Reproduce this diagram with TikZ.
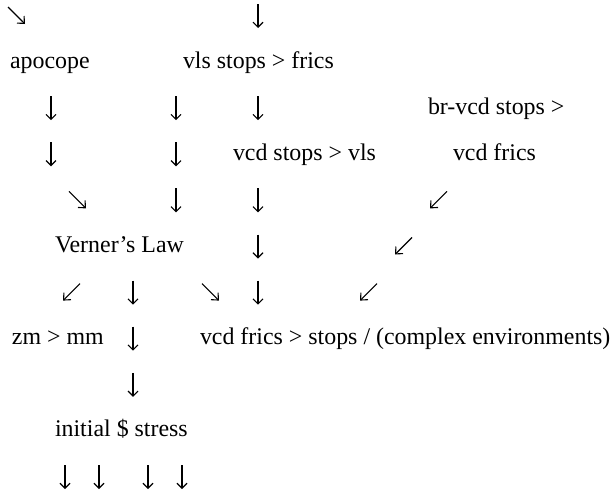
\documentclass[tikz,border=0pt]{standalone}
\usepackage{fontspec}
\setmainfont{Liberation Serif}
\usetikzlibrary{arrows.meta}
\tikzset{
  lbl/.style={anchor=base west, inner sep=0pt, outer sep=0pt, font=\fontsize{23.9pt}{28pt}\selectfont},
  glyph/.style={line width=1.1pt, -{Straight Barb[length=5pt,width=10pt,line width=1.1pt]}},
  dglyph/.style={line width=1.1pt, -{Straight Barb[length=5.5pt,width=10pt,line width=1.1pt]}}
}
\newcommand{\rowb}[1]{22+46.1*#1}
\begin{document}
\begin{tikzpicture}[x=1pt,y=-1pt]
\path[fill=white] (0,0) rectangle (613,493);
\useasboundingbox (0,0) rectangle (613,493);
% text
\node[lbl] (apocope) at (10,{\rowb{1}}) {apocope};
\node[lbl] (vls) at (183,{\rowb{1}}) {vls stops > frics};
\node[lbl] (brvcd) at (428,{\rowb{2}}) {br-vcd stops >};
\node[lbl] (vcdstops) at (233,{\rowb{3}}) {vcd stops > vls};
\node[lbl] (vcdfrics) at (453,{\rowb{3}}) {vcd frics};
\node[lbl] (verner) at (55,{\rowb{5}}) {Verner’s Law};
\node[lbl] (zm) at (12,{\rowb{7}}) {zm > mm};
\node[lbl] (complex) at (200,{\rowb{7}}) {vcd frics > stops / (complex environments)};
\node[lbl] (initial) at (55,{\rowb{9}}) {initial \$ stress};
% down arrows
\foreach \x/\r in {258/0, 51/2, 176/2, 258/2, 51/3, 176/3, 176/4, 258/4, 258/5, 133/6, 258/6, 133/7, 133/8, 65/10, 99/10, 148/10, 182/10}
  \draw[glyph] (\x,{\rowb{\r}-18}) -- (\x,{\rowb{\r}+6});
% south-east arrows
\foreach \x/\r in {8/0, 69/4, 202/6}
  \draw[dglyph] (\x,{\rowb{\r}-15}) -- ({\x+17},{\rowb{\r}+2});
% south-west arrows
\foreach \x/\r in {447/4, 412/5, 377/6, 80/6}
  \draw[dglyph] (\x,{\rowb{\r}-15}) -- ({\x-17},{\rowb{\r}+2});
\end{tikzpicture}
\end{document}
